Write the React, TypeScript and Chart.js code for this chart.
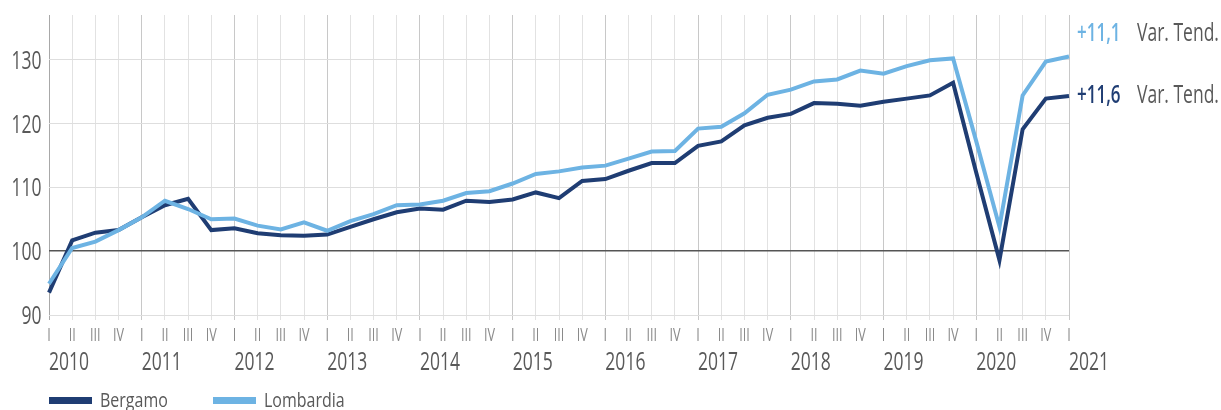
import React, { useEffect, useRef } from "react";
import { Chart, registerables } from "chart.js";

Chart.register(...registerables);

const categories = [
  "2010 I", "2010 II", "2010 III", "2010 IV",
  "2011 I", "2011 II", "2011 III", "2011 IV",
  "2012 I", "2012 II", "2012 III", "2012 IV",
  "2013 I", "2013 II", "2013 III", "2013 IV",
  "2014 I", "2014 II", "2014 III", "2014 IV",
  "2015 I", "2015 II", "2015 III", "2015 IV",
  "2016 I", "2016 II", "2016 III", "2016 IV",
  "2017 I", "2017 II", "2017 III", "2017 IV",
  "2018 I", "2018 II", "2018 III", "2018 IV",
  "2019 I", "2019 II", "2019 III", "2019 IV",
  "2020 I", "2020 II", "2020 III", "2020 IV",
  "2021 I",
];

const yearLabels = ["2010", "2011", "2012", "2013", "2014", "2015", "2016", "2017", "2018", "2019", "2020", "2021"];

const bergamo = [
  93.5, 101.7, 102.9, 103.3, 105.3, 107.2, 108.2, 103.3, 103.6, 102.8,
  102.5, 102.4, 102.6, 103.8, 105.0, 106.1, 106.7, 106.5, 107.9, 107.7,
  108.1, 109.2, 108.3, 111.0, 111.3, 112.6, 113.8, 113.8, 116.5, 117.2,
  119.7, 120.9, 121.5, 123.2, 123.1, 122.8, 123.4, 123.9, 124.4, 126.4,
  112.3, 98.6, 119.1, 123.9, 124.3,
];

const lombardia = [
  94.9, 100.5, 101.5, 103.3, 105.3, 107.9, 106.6, 105.0, 105.1, 104.0,
  103.4, 104.5, 103.2, 104.7, 105.8, 107.2, 107.3, 107.9, 109.1, 109.4,
  110.6, 112.1, 112.5, 113.1, 113.4, 114.5, 115.6, 115.7, 119.2, 119.5,
  121.6, 124.5, 125.3, 126.6, 126.9, 128.3, 127.8, 129.0, 129.9, 130.2,
  117.2, 103.8, 124.4, 129.7, 130.5,
];

const yTicks = [90, 100, 110, 120, 130];

const annotations = [
  { value: "+11,1", text: "Var. Tend.", color: "#6db3e3", y: 41 },
  { value: "+11,6", text: "Var. Tend.", color: "#1f3d73", y: 103 },
];

const DARK = "#1f3d73";
const LIGHT = "#6db3e3";
const TEXT = "#595959";
const FONT = "'Open Sans', 'DejaVu Sans', sans-serif";
const SX = 0.7;

function drawText(
  ctx: CanvasRenderingContext2D,
  text: string,
  x: number,
  y: number,
  size: number,
  color: string,
  align: "left" | "right" | "center" = "left",
  sx: number = SX,
  weight: number = 400
) {
  ctx.save();
  ctx.font = `${weight} ${size}px ${FONT}`;
  ctx.fillStyle = color;
  ctx.textBaseline = "alphabetic";
  ctx.textAlign = "left";
  const w = ctx.measureText(text).width * sx;
  let x0 = x;
  if (align === "right") x0 = x - w;
  if (align === "center") x0 = x - w / 2;
  ctx.translate(x0, y);
  ctx.scale(sx, 1);
  ctx.fillText(text, 0, 0);
  ctx.restore();
}

const overlayPlugin = {
  id: "overlay",
  afterDraw(chart: any) {
    const ctx = chart.ctx as CanvasRenderingContext2D;
    const xs = chart.scales.x;
    const ys = chart.scales.y;
    const area = chart.chartArea;
    // y labels
    yTicks.forEach((v) => {
      drawText(ctx, String(v), area.left - 7.5, ys.getPixelForValue(v) + 9, 25, TEXT, "right");
    });
    // quarter labels
    categories.forEach((c, i) => {
      drawText(ctx, c.split(" ")[1], xs.getPixelForValue(i), 341, 18, "#8a8a8a", "center");
    });
    // year labels
    yearLabels.forEach((yl, i) => {
      drawText(ctx, yl, xs.getPixelForValue(i * 4), 370, 25, TEXT, "left");
    });
    // right annotations
    annotations.forEach((a) => {
      drawText(ctx, a.value, area.right + 8, a.y, 25, a.color, "left", 0.68, 600);
      drawText(ctx, a.text, area.right + 68, a.y, 25, TEXT, "left");
    });
    // legend
    const items = [
      { label: "Bergamo", color: DARK, x: 49 },
      { label: "Lombardia", color: LIGHT, x: 213 },
    ];
    items.forEach((it) => {
      ctx.save();
      ctx.fillStyle = it.color;
      ctx.fillRect(it.x, 397, 43, 7);
      ctx.restore();
      drawText(ctx, it.label, it.x + 51, 407, 20, TEXT, "left", 0.8);
    });
  },
};

export default function App() {
  const ref = useRef<HTMLCanvasElement>(null);

  useEffect(() => {
    if (!ref.current) return;
    const chart = new Chart(ref.current, {
      type: "line",
      data: {
        labels: categories,
        datasets: [
          {
            label: "Bergamo",
            data: bergamo,
            borderColor: DARK,
            backgroundColor: DARK,
            borderWidth: 4,
            pointRadius: 0,
            tension: 0,
            order: 1,
          },
          {
            label: "Lombardia",
            data: lombardia,
            borderColor: LIGHT,
            backgroundColor: LIGHT,
            borderWidth: 4,
            pointRadius: 0,
            tension: 0,
            order: 0,
          },
        ],
      },
      options: {
        animation: false,
        responsive: false,
        maintainAspectRatio: false,
        layout: { padding: { top: 15, right: 152, left: 0, bottom: 0 } },
        plugins: {
          legend: { display: false },
          tooltip: { enabled: false },
        },
        scales: {
          x: {
            type: "category",
            offset: false,
            border: { display: false },
            grid: {
              color: (c: any) => (c.index === 0 ? "#a8a8a8" : c.index % 4 === 0 ? "#c8c8c8" : "#e2e2e2"),
              lineWidth: 1,
              drawTicks: true,
              tickLength: 5,
            },
            ticks: { display: false, autoSkip: false },
            afterFit: (s: any) => {
              s.height = 95;
            },
          },
          y: {
            min: 90,
            max: 137,
            border: { display: false },
            afterBuildTicks: (s: any) => {
              s.ticks = yTicks.map((v) => ({ value: v }));
            },
            grid: {
              drawTicks: false,
              color: (c: any) => (c.tick && c.tick.value === 100 ? "#555555" : "#dedede"),
              lineWidth: (c: any) => (c.tick && c.tick.value === 100 ? 1.5 : 1),
            },
            ticks: { display: false },
            afterFit: (s: any) => {
              s.width = 49;
            },
          },
        },
      },
      plugins: [overlayPlugin],
    });
    return () => chart.destroy();
  }, []);

  return (
    <div style={{ position: "fixed", left: 0, top: 0, width: 1221, height: 410, background: "#fff" }}>
      <canvas ref={ref} width={1221} height={410} style={{ width: 1221, height: 410 }} />
    </div>
  );
}
